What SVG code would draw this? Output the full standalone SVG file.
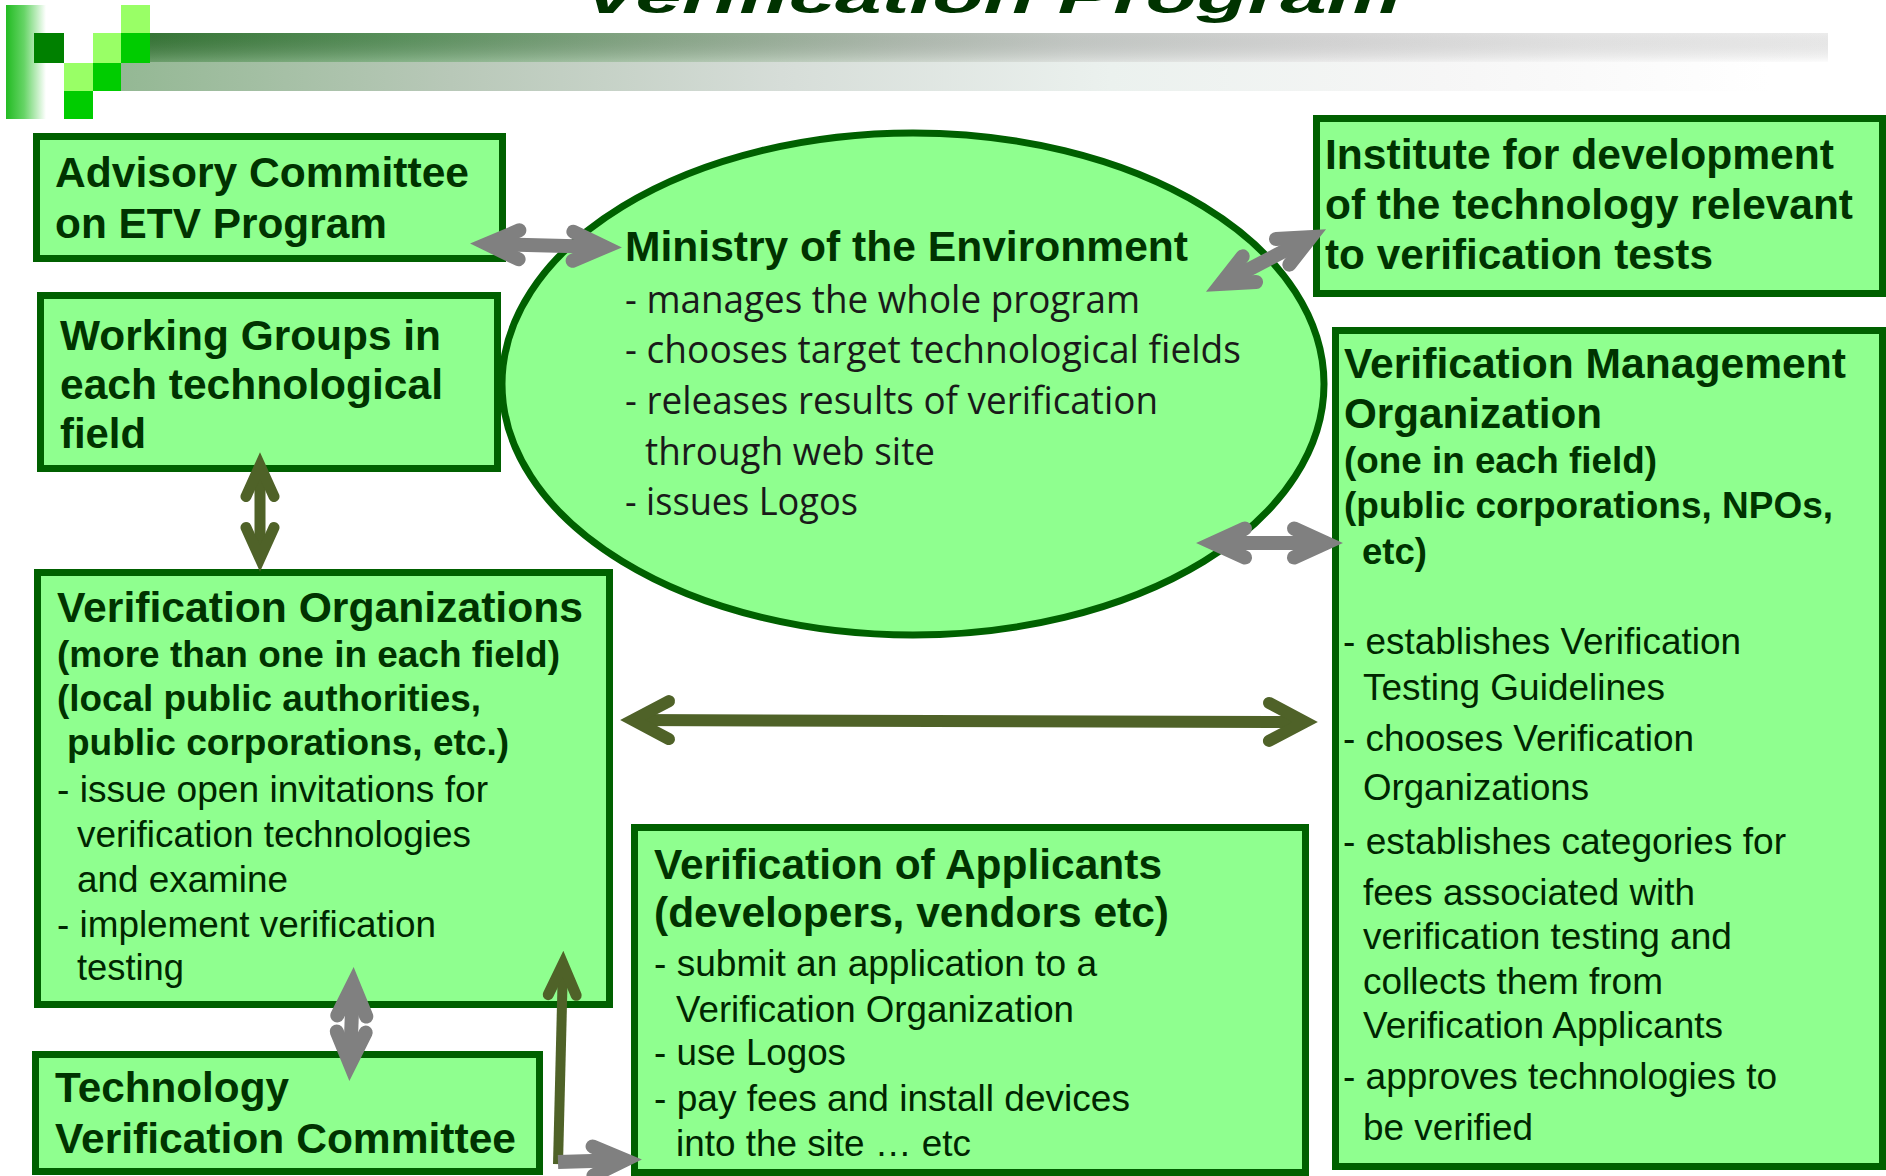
<svg xmlns="http://www.w3.org/2000/svg" width="1886" height="1176" viewBox="0 0 1886 1176">
  <style>
    .box { fill: #8fff8f; stroke: #006000; stroke-width: 7; }
    .hd { font-family: "Liberation Sans", Arial, sans-serif; font-weight: bold; font-size: 42px; fill: #003300; }
    .sub { font-family: "Liberation Sans", Arial, sans-serif; font-weight: bold; font-size: 37px; fill: #003300; }
    .bd { font-family: "Liberation Sans", Arial, sans-serif; font-size: 37px; fill: #002600; }
    .min { font-family: "Open Sans", "Liberation Sans", sans-serif; font-weight: normal; font-size: 39px; fill: #1a1a1a; }
    .gray { fill: none; stroke: #808080; stroke-width: 14; }
    .olive { fill: none; stroke: #4f6228; }
  </style>
  <defs>
    <linearGradient id="fadeBar" x1="0" y1="0" x2="1" y2="0">
      <stop offset="0" stop-color="#22bb22"/>
      <stop offset="0.45" stop-color="#66d466"/>
      <stop offset="1" stop-color="#ffffff"/>
    </linearGradient>
    <linearGradient id="stripeTop" x1="0" y1="0" x2="1" y2="0">
      <stop offset="0" stop-color="#3a7d3a"/>
      <stop offset="0.15" stop-color="#5f9a62"/>
      <stop offset="0.3" stop-color="#8fb08f"/>
      <stop offset="0.45" stop-color="#b9c5b9"/>
      <stop offset="0.55" stop-color="#d0d5d1"/>
      <stop offset="0.7" stop-color="#e3e3e3"/>
      <stop offset="0.85" stop-color="#f3f3f3"/>
      <stop offset="1" stop-color="#fbfbfb"/>
    </linearGradient>
    <linearGradient id="stripeLow" x1="0" y1="0" x2="1" y2="0">
      <stop offset="0" stop-color="#94b894"/>
      <stop offset="0.2" stop-color="#b8c8b8"/>
      <stop offset="0.4" stop-color="#d6ddd8"/>
      <stop offset="0.6" stop-color="#ebf1ee"/>
      <stop offset="0.8" stop-color="#f6f6f6"/>
      <stop offset="1" stop-color="#ffffff"/>
    </linearGradient>
    <linearGradient id="stripeShade" x1="0" y1="0" x2="0" y2="1">
      <stop offset="0" stop-color="#000000" stop-opacity="0.06"/>
      <stop offset="1" stop-color="#ffffff" stop-opacity="0.25"/>
    </linearGradient>
    <!-- open arrowheads: pointed tip, rounded barbs -->
    <marker id="headGray" markerUnits="userSpaceOnUse" orient="auto-start-reverse" refX="0" refY="0" markerWidth="1" markerHeight="1" style="overflow:visible">
      <path d="M -32 -14.5 L 0 0 L -32 14.5" fill="none" stroke="#808080" stroke-width="14" stroke-linecap="round" stroke-linejoin="miter"/>
    </marker>
    <marker id="headOliveL" markerUnits="userSpaceOnUse" orient="auto-start-reverse" refX="0" refY="0" markerWidth="1" markerHeight="1" style="overflow:visible">
      <path d="M -36 -19 L 0 0 L -36 19" fill="none" stroke="#4f6228" stroke-width="12" stroke-linecap="round" stroke-linejoin="miter"/>
    </marker>
    <marker id="headOliveS" markerUnits="userSpaceOnUse" orient="auto-start-reverse" refX="0" refY="0" markerWidth="1" markerHeight="1" style="overflow:visible">
      <path d="M -31 -14 L 0 0 L -31 14" fill="none" stroke="#4f6228" stroke-width="11" stroke-linecap="round" stroke-linejoin="miter"/>
    </marker>
  </defs>

  <rect width="1886" height="1176" fill="#ffffff"/>

  <!-- slide header: title, logo squares and fading stripe -->
  <g id="header">
    <text x="583" y="13" font-family="Liberation Sans, Arial, sans-serif" font-weight="bold" font-style="italic" font-size="50" fill="#003300" textLength="818" lengthAdjust="spacingAndGlyphs">Verification Program</text>
    <rect x="150" y="33" width="1678" height="29" fill="url(#stripeTop)"/>
    <rect x="121" y="62" width="1649" height="29" fill="url(#stripeLow)"/>
    <rect x="150" y="33" width="1678" height="29" fill="url(#stripeShade)"/>
    <rect x="6" y="5" width="40" height="114" fill="url(#fadeBar)"/>
    <rect x="121" y="5" width="29" height="28" fill="#99ff66"/>
    <rect x="34" y="33" width="30" height="30" fill="#008000"/>
    <rect x="93" y="33" width="28" height="30" fill="#99ff66"/>
    <rect x="121" y="33" width="29" height="30" fill="#00cc00"/>
    <rect x="64" y="63" width="29" height="28" fill="#99ff66"/>
    <rect x="93" y="63" width="28" height="28" fill="#00cc00"/>
    <rect x="64" y="91" width="29" height="28" fill="#00cc00"/>
  </g>

  <g id="advisory-committee">
    <rect class="box" x="36.5" y="136.5" width="466" height="122"/>
    <text class="hd" x="55" y="187" textLength="414" lengthAdjust="spacingAndGlyphs">Advisory Committee</text>
    <text class="hd" x="55" y="238" textLength="332" lengthAdjust="spacingAndGlyphs">on ETV Program</text>
  </g>

  <g id="working-groups">
    <rect class="box" x="40.5" y="295.5" width="457" height="173"/>
    <text class="hd" x="60" y="350" textLength="381" lengthAdjust="spacingAndGlyphs">Working Groups in</text>
    <text class="hd" x="60" y="399" textLength="383" lengthAdjust="spacingAndGlyphs">each technological</text>
    <text class="hd" x="60" y="448" textLength="86" lengthAdjust="spacingAndGlyphs">field</text>
  </g>

  <g id="ministry">
    <ellipse cx="913" cy="384" rx="411" ry="251" fill="#8fff8f" stroke="#006000" stroke-width="7"/>
    <text class="hd" x="625" y="261" textLength="563" lengthAdjust="spacingAndGlyphs">Ministry of the Environment</text>
    <text class="min" x="625" y="313" textLength="515" lengthAdjust="spacingAndGlyphs">- manages the whole program</text>
    <text class="min" x="625" y="363" textLength="616" lengthAdjust="spacingAndGlyphs">- chooses target technological fields</text>
    <text class="min" x="625" y="414" textLength="533" lengthAdjust="spacingAndGlyphs">- releases results of verification</text>
    <text class="min" x="645" y="465" textLength="290" lengthAdjust="spacingAndGlyphs">through web site</text>
    <text class="min" x="625" y="515" textLength="233" lengthAdjust="spacingAndGlyphs">- issues Logos</text>
  </g>

  <g id="institute">
    <rect class="box" x="1316.5" y="118.5" width="566" height="175"/>
    <text class="hd" x="1325" y="169" textLength="509" lengthAdjust="spacingAndGlyphs">Institute for development</text>
    <text class="hd" x="1325" y="219" textLength="528" lengthAdjust="spacingAndGlyphs">of the technology relevant</text>
    <text class="hd" x="1325" y="269" textLength="388" lengthAdjust="spacingAndGlyphs">to verification tests</text>
  </g>

  <g id="verification-management-organization">
    <rect class="box" x="1335.5" y="330.5" width="547" height="836"/>
    <text class="hd" x="1344" y="378" textLength="502" lengthAdjust="spacingAndGlyphs">Verification Management</text>
    <text class="hd" x="1344" y="428" textLength="258" lengthAdjust="spacingAndGlyphs">Organization</text>
    <text class="sub" x="1344" y="473" textLength="313" lengthAdjust="spacingAndGlyphs">(one in each field)</text>
    <text class="sub" x="1344" y="518" textLength="489" lengthAdjust="spacingAndGlyphs">(public corporations, NPOs,</text>
    <text class="sub" x="1362" y="564" textLength="65" lengthAdjust="spacingAndGlyphs">etc)</text>
    <text class="bd" x="1343" y="654" textLength="398" lengthAdjust="spacingAndGlyphs">- establishes Verification</text>
    <text class="bd" x="1363" y="700" textLength="302" lengthAdjust="spacingAndGlyphs">Testing Guidelines</text>
    <text class="bd" x="1343" y="751" textLength="351" lengthAdjust="spacingAndGlyphs">- chooses Verification</text>
    <text class="bd" x="1363" y="800" textLength="226" lengthAdjust="spacingAndGlyphs">Organizations</text>
    <text class="bd" x="1343" y="854" textLength="443" lengthAdjust="spacingAndGlyphs">- establishes categories for</text>
    <text class="bd" x="1363" y="905" textLength="332" lengthAdjust="spacingAndGlyphs">fees associated with</text>
    <text class="bd" x="1363" y="949" textLength="369" lengthAdjust="spacingAndGlyphs">verification testing and</text>
    <text class="bd" x="1363" y="994" textLength="300" lengthAdjust="spacingAndGlyphs">collects them from</text>
    <text class="bd" x="1363" y="1038" textLength="360" lengthAdjust="spacingAndGlyphs">Verification Applicants</text>
    <text class="bd" x="1343" y="1089" textLength="434" lengthAdjust="spacingAndGlyphs">- approves technologies to</text>
    <text class="bd" x="1363" y="1140" textLength="170" lengthAdjust="spacingAndGlyphs">be verified</text>
  </g>

  <g id="verification-organizations">
    <rect class="box" x="37.5" y="572.5" width="572" height="432"/>
    <text class="hd" x="57" y="622" textLength="526" lengthAdjust="spacingAndGlyphs">Verification Organizations</text>
    <text class="sub" x="57" y="667" textLength="503" lengthAdjust="spacingAndGlyphs">(more than one in each field)</text>
    <text class="sub" x="57" y="711" textLength="424" lengthAdjust="spacingAndGlyphs">(local public authorities,</text>
    <text class="sub" x="67" y="755" textLength="442" lengthAdjust="spacingAndGlyphs">public corporations, etc.)</text>
    <text class="bd" x="57" y="802" textLength="431" lengthAdjust="spacingAndGlyphs">- issue open invitations for</text>
    <text class="bd" x="77" y="847" textLength="394" lengthAdjust="spacingAndGlyphs">verification technologies</text>
    <text class="bd" x="77" y="892" textLength="211" lengthAdjust="spacingAndGlyphs">and examine</text>
    <text class="bd" x="57" y="937" textLength="379" lengthAdjust="spacingAndGlyphs">- implement verification</text>
    <text class="bd" x="77" y="980" textLength="107" lengthAdjust="spacingAndGlyphs">testing</text>
  </g>

  <g id="technology-verification-committee">
    <rect class="box" x="35.5" y="1054.5" width="504" height="117"/>
    <text class="hd" x="55" y="1102" textLength="234" lengthAdjust="spacingAndGlyphs">Technology</text>
    <text class="hd" x="55" y="1153" textLength="461" lengthAdjust="spacingAndGlyphs">Verification Committee</text>
  </g>

  <g id="verification-applicants">
    <rect class="box" x="634.5" y="827.5" width="671" height="345"/>
    <text class="hd" x="654" y="879" textLength="508" lengthAdjust="spacingAndGlyphs">Verification of Applicants</text>
    <text class="hd" x="654" y="927" textLength="515" lengthAdjust="spacingAndGlyphs">(developers, vendors etc)</text>
    <text class="bd" x="654" y="976" textLength="443" lengthAdjust="spacingAndGlyphs">- submit an application to a</text>
    <text class="bd" x="676" y="1022" textLength="398" lengthAdjust="spacingAndGlyphs">Verification Organization</text>
    <text class="bd" x="654" y="1065" textLength="192" lengthAdjust="spacingAndGlyphs">- use Logos</text>
    <text class="bd" x="654" y="1111" textLength="476" lengthAdjust="spacingAndGlyphs">- pay fees and install devices</text>
    <text class="bd" x="676" y="1156" textLength="295" lengthAdjust="spacingAndGlyphs">into the site … etc</text>
  </g>

  <g id="connectors">
    <path class="gray" d="M 487 244 L 605 247" marker-start="url(#headGray)" marker-end="url(#headGray)"/>
    <path class="gray" d="M 1221 284 L 1311 237" marker-start="url(#headGray)" marker-end="url(#headGray)"/>
    <path class="gray" d="M 1213 543 L 1326 543" marker-start="url(#headGray)" marker-end="url(#headGray)"/>
    <path class="olive" stroke-width="11" d="M 260 465.5 L 260 558.5" marker-start="url(#headOliveS)" marker-end="url(#headOliveS)"/>
    <path class="olive" stroke-width="12" d="M 633 720 L 1305 722" marker-start="url(#headOliveL)" marker-end="url(#headOliveL)"/>
    <path class="gray" d="M 353 984 L 350 1064" marker-start="url(#headGray)" marker-end="url(#headGray)"/>
    <path class="olive" stroke-width="10" d="M 563 964 L 558 1164" marker-start="url(#headOliveS)"/>
    <path class="gray" stroke-width="10" d="M 558 1162 L 625 1160" marker-end="url(#headGray)"/>
  </g>
</svg>
